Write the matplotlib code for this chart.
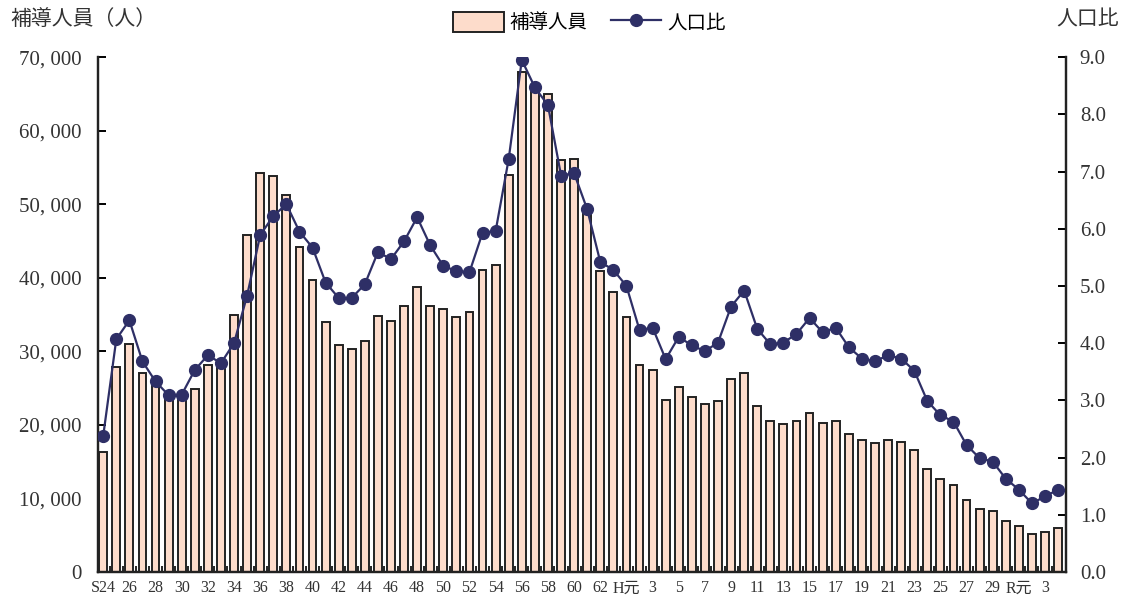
import matplotlib.pyplot as plt
import numpy as np

plt.rcParams['font.family'] = ['Liberation Serif', 'Noto Sans CJK JP']

# 昭和24年〜令和4年
years = (['S%d' % y for y in range(24, 64)] +
         ['H%d' % y for y in range(1, 31)] +
         ['R%d' % y for y in range(1, 5)])

hodo = [16300, 27900, 31000, 27000, 25300, 23700, 23400, 24900, 28100, 27700,
        34900, 45800, 54200, 53800, 51300, 44200, 39700, 34000, 30900, 30300,
        31400, 34800, 34100, 36200, 38800, 36200, 35700, 34600, 35400, 41000,
        41700, 54000, 68000, 65500, 65000, 56000, 56100, 49600, 40900, 38100,
        34700, 28200, 27500, 23400, 25200, 23800, 22900, 23200, 26200, 27000,
        22500, 20500, 20100, 20500, 21600, 20200, 20500, 18800, 17900, 17600,
        18000, 17700, 16600, 14000, 12600, 11800, 9800, 8600, 8300, 6900,
        6200, 5100, 5500, 6000]

jinkohi = [2.38, 4.07, 4.40, 3.68, 3.33, 3.09, 3.10, 3.53, 3.79, 3.65,
           4.00, 4.83, 5.89, 6.22, 6.43, 5.95, 5.67, 5.06, 4.79, 4.79,
           5.03, 5.59, 5.47, 5.78, 6.20, 5.71, 5.35, 5.26, 5.24, 5.93,
           5.96, 7.22, 8.95, 8.47, 8.16, 6.93, 6.97, 6.34, 5.42, 5.28,
           5.00, 4.23, 4.27, 3.72, 4.11, 3.96, 3.86, 4.01, 4.64, 4.92,
           4.25, 3.98, 4.01, 4.16, 4.44, 4.19, 4.27, 3.93, 3.73, 3.68,
           3.79, 3.73, 3.52, 2.99, 2.74, 2.63, 2.22, 1.99, 1.93, 1.63,
           1.44, 1.20, 1.32, 1.44]

def short_label(y):
    era, n = y[0], int(y[1:])
    if y == 'S24':
        return 'S24'
    if n == 1:
        return era + '元'
    return str(n)

labels = [short_label(y) if (i % 2 == 0) else '' for i, y in enumerate(years)]

x = np.arange(len(years))

fig = plt.figure(figsize=(11.25, 5.98), dpi=100)
ax = fig.add_axes([0.0871, 0.0435, 0.8604, 0.861])
ax2 = ax.twinx()

ax.bar(x, hodo, width=0.6, color='#fddccb', edgecolor='#222222', linewidth=1.4,
       label='補導人員', zorder=2)
ax2.plot(x, jinkohi, color='#2e2f66', marker='o', markersize=8.5, linewidth=1.6,
         label='人口比', zorder=3)

ax.set_xlim(-0.4, len(years) - 0.4)
ax.set_ylim(0, 70000)
ax2.set_ylim(0, 9)

ax.set_yticks(np.arange(0, 70001, 10000))
ax.set_yticklabels(['{:,}'.format(v).replace(',', ', ') for v in range(0, 70001, 10000)],
                   fontsize=15, color='#333333')
ax2.set_yticks(np.arange(0, 9.01, 1))
ax2.set_yticklabels(['%.1f' % v for v in np.arange(0, 9.01, 1)], fontsize=15,
                    color='#333333')

ax.set_xticks(x)
ax.set_xticklabels(labels, fontsize=11.5, color='#333333')
ax.tick_params(axis='x', length=0, pad=6)
ax.set_xticks(x[:-1] + 0.5, minor=True)
ax.tick_params(axis='x', which='minor', direction='in', length=4, width=1.2)

ax.tick_params(axis='y', direction='in', length=6, width=1.4, pad=12)
ax2.tick_params(axis='y', direction='in', length=6, width=1.4, pad=10)

for a in (ax, ax2):
    a.spines['top'].set_visible(False)
    for s in ('left', 'right', 'bottom'):
        a.spines[s].set_linewidth(1.6)
        a.spines[s].set_color('#222222')

ax.set_zorder(ax2.get_zorder() - 1)
ax.patch.set_visible(False)

fig.text(0.009, 0.968, '補導人員（人）', fontsize=15, family='Noto Sans CJK JP',
         va='center', ha='left', color='#333333')
fig.text(0.995, 0.968, '人口比', fontsize=15, family='Noto Sans CJK JP',
         va='center', ha='right', color='#333333')

h1, l1 = ax.get_legend_handles_labels()
h2, l2 = ax2.get_legend_handles_labels()
fig.legend(h1 + h2, l1 + l2, loc='center', bbox_to_anchor=(0.524, 0.962), ncol=2,
           frameon=False, prop={'family': 'Noto Sans CJK JP', 'size': 14},
           handlelength=2.6, handleheight=1.2, columnspacing=1.2, handletextpad=0.3)

fig.savefig('out.png', dpi=100)
